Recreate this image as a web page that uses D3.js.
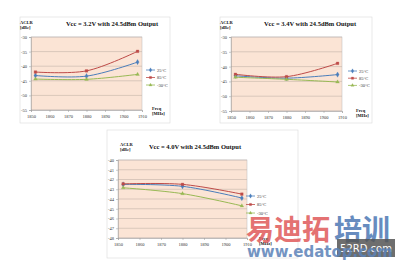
<!DOCTYPE html>
<html>
<head>
<meta charset="utf-8">
<script src="https://d3js.org/d3.v7.min.js"></script>
<style>
  html, body { margin: 0; padding: 0; background: #fff; }
  svg { display: block; }
  .tick text { font-family: "Liberation Serif", serif; font-size: 4.5px; fill: #333; }
  .ttl { font-family: "Liberation Serif", serif; font-weight: bold; font-size: 6.5px; fill: #111; }
  .lab { font-family: "Liberation Serif", serif; font-weight: bold; font-size: 4.5px; fill: #111; }
  .leg { font-family: "Liberation Serif", serif; font-size: 4.5px; fill: #333; }
</style>
</head>
<body>
<svg id="chart" width="400" height="265"></svg>
<script>
// measured channels (MHz)
const freqs = [1852.4, 1880, 1907.6];
const seriesNames = ["25°C", "85°C", "-30°C"];
const seriesColors = ["#4a7ebb", "#be4b48", "#98b954"];
const xTicks = [1850, 1860, 1870, 1880, 1890, 1900, 1910];
const yTicksWide = [-30, -35, -40, -45, -50, -55];
const yTicksNarrow = [-40, -41, -42, -43, -44, -45, -46, -47, -48];

// ACLR [dBc] per temperature
const vcc32_25 = [-43.2, -43.4, -38.6];
const vcc32_85 = [-42.0, -41.6, -34.9];
const vcc32_m30 = [-44.4, -44.5, -42.8];

const vcc34_25 = [-43.1, -43.9, -42.7];
const vcc34_85 = [-42.6, -43.4, -38.9];
const vcc34_m30 = [-43.6, -44.3, -45.2];

const vcc40_25 = [-42.5, -42.7, -43.9];
const vcc40_85 = [-42.45, -42.5, -43.5];
const vcc40_m30 = [-42.85, -43.45, -44.7];

const svg = d3.select("#chart");

function drawChart(cfg) {
  const g = svg.append("g");

  // chart frame
  g.append("rect")
    .attr("x", cfg.box[0]).attr("y", cfg.box[1])
    .attr("width", cfg.box[2]).attr("height", cfg.box[3])
    .attr("fill", "#fff").attr("stroke", "#dadada").attr("stroke-width", 0.6);

  const x = d3.scaleLinear().domain([1850, 1910]).range([cfg.left, cfg.right]);
  const y = d3.scaleLinear().domain(cfg.yDomain).range([cfg.bottom, cfg.top]);

  g.append("rect")
    .attr("x", cfg.left).attr("y", cfg.top)
    .attr("width", cfg.right - cfg.left).attr("height", cfg.bottom - cfg.top)
    .attr("fill", "#fbe4d5");

  // gridlines
  g.selectAll(".grid").data(cfg.yTicks).join("line")
    .attr("x1", cfg.left).attr("x2", cfg.right)
    .attr("y1", d => y(d)).attr("y2", d => y(d))
    .attr("stroke", "#b8aaa0").attr("stroke-width", 0.5);

  g.append("rect")
    .attr("x", cfg.left).attr("y", cfg.top)
    .attr("width", cfg.right - cfg.left).attr("height", cfg.bottom - cfg.top)
    .attr("fill", "none").attr("stroke", "#bbb").attr("stroke-width", 0.5);

  g.append("g")
    .attr("transform", `translate(${cfg.left},0)`)
    .call(d3.axisLeft(y).tickValues(cfg.yTicks).tickFormat(d => String(d)).tickSize(2).tickPadding(2))
    .call(a => a.select(".domain").attr("stroke", "#999").attr("stroke-width", 0.5))
    .call(a => a.selectAll(".tick line").attr("stroke", "#999").attr("stroke-width", 0.5));

  g.append("g")
    .attr("transform", `translate(0,${cfg.bottom})`)
    .call(d3.axisBottom(x).tickValues(xTicks).tickFormat(d3.format("d")).tickSize(2).tickPadding(3))
    .call(a => a.select(".domain").attr("stroke", "#999").attr("stroke-width", 0.5))
    .call(a => a.selectAll(".tick line").attr("stroke", "#999").attr("stroke-width", 0.5));

  const line = d3.line()
    .x((d, i) => x(freqs[i]))
    .y(d => y(d))
    .curve(d3.curveCatmullRom.alpha(0.5));

  cfg.series.forEach((vals, k) => {
    const col = seriesColors[k];
    g.append("path").datum(vals)
      .attr("d", line).attr("fill", "none")
      .attr("stroke", col).attr("stroke-width", 1);
    vals.forEach((v, i) => marker(g, x(freqs[i]), y(v), k, col));
  });

  // title and axis captions
  g.append("text").attr("class", "ttl")
    .attr("x", cfg.titleX).attr("y", cfg.titleY)
    .attr("text-anchor", "middle").text(cfg.title);
  g.append("text").attr("class", "lab").attr("x", cfg.aclr[0]).attr("y", cfg.aclr[1]).text("ACLR");
  g.append("text").attr("class", "lab").attr("x", cfg.aclr[0]).attr("y", cfg.aclr[1] + 5).text("[dBc]");
  g.append("text").attr("class", "lab").attr("x", cfg.freq[0]).attr("y", cfg.freq[1]).text("Freq");
  g.append("text").attr("class", "lab").attr("x", cfg.freq[0]).attr("y", cfg.freq[1] + 5).text("[MHz]");

  // legend
  seriesNames.forEach((name, k) => {
    const ly = cfg.legend[1] + k * cfg.legendGap;
    const lx = cfg.legend[0];
    g.append("line").attr("x1", lx).attr("x2", lx + 9)
      .attr("y1", ly).attr("y2", ly)
      .attr("stroke", seriesColors[k]).attr("stroke-width", 0.8);
    marker(g, lx + 4.5, ly, k, seriesColors[k], 0.7);
    g.append("text").attr("class", "leg")
      .attr("x", lx + 11).attr("y", ly + 1.6).text(name);
  });
}

function marker(g, cx, cy, k, col, scale = 1) {
  const sym = [d3.symbolDiamond, d3.symbolSquare, d3.symbolTriangle][k];
  const size = [8, 7, 6][k] * scale;
  g.append("path")
    .attr("d", d3.symbol().type(sym).size(size)())
    .attr("transform", `translate(${cx},${cy})`)
    .attr("fill", col).attr("stroke", col).attr("stroke-width", 0.3);
}

drawChart({
  box: [20, 17, 150, 106],
  left: 31, right: 142, top: 37, bottom: 110,
  yDomain: [-55, -30], yTicks: yTicksWide,
  series: [vcc32_25, vcc32_85, vcc32_m30],
  title: "Vcc = 3.2V with 24.5dBm Output", titleX: 112, titleY: 26,
  aclr: [20, 24], freq: [152, 110], legend: [146, 70], legendGap: 7.5
});

drawChart({
  box: [220, 17, 152, 106],
  left: 231, right: 342, top: 37, bottom: 111,
  yDomain: [-55, -30], yTicks: yTicksWide,
  series: [vcc34_25, vcc34_85, vcc34_m30],
  title: "Vcc = 3.4V with 24.5dBm Output", titleX: 310, titleY: 26,
  aclr: [220, 24], freq: [356, 112], legend: [348, 71], legendGap: 7.2
});

drawChart({
  box: [107, 130, 191, 128],
  left: 118, right: 247, top: 160, bottom: 238,
  yDomain: [-48, -40], yTicks: yTicksNarrow,
  series: [vcc40_25, vcc40_85, vcc40_m30],
  title: "Vcc = 4.0V with 24.5dBm Output", titleX: 195, titleY: 149,
  aclr: [120, 146], freq: [259, 240], legend: [246, 196], legendGap: 8.5
});

// site watermark over the lower right corner
const wm = svg.append("g");
wm.append("text").attr("x", 246).attr("y", 240)
  .style("font-family", "'Noto Sans CJK SC', sans-serif").style("font-weight", "bold")
  .style("font-size", "28px").attr("fill", "#e05a5a").attr("opacity", 0.85)
  .text("易迪拓");
wm.append("text").attr("x", 334).attr("y", 240)
  .style("font-family", "'Noto Sans CJK SC', sans-serif").style("font-weight", "bold")
  .style("font-size", "28px").attr("fill", "#4d78b5").attr("opacity", 0.85)
  .text("培训");
wm.append("rect").attr("x", 337).attr("y", 239).attr("width", 58).attr("height", 18)
  .attr("fill", "#555").attr("opacity", 0.85);
wm.append("text").attr("x", 366).attr("y", 252).attr("text-anchor", "middle")
  .style("font-family", "'DejaVu Sans', sans-serif").style("font-size", "10px")
  .attr("fill", "#fff").text("52RD.com");
wm.append("text").attr("x", 247).attr("y", 257)
  .attr("textLength", 146).attr("lengthAdjust", "spacingAndGlyphs")
  .style("font-family", "'DejaVu Sans', sans-serif").style("font-weight", "bold")
  .style("font-size", "15px").attr("fill", "#5b82b8").attr("opacity", 0.85)
  .text("www.edatop.com");
</script>
</body>
</html>
